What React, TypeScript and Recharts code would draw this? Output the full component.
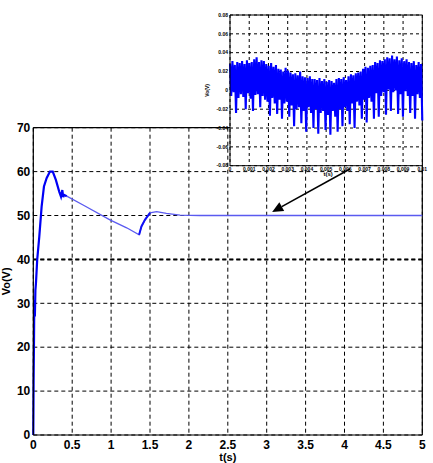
import React from "react";
import {
  LineChart,
  Line,
  XAxis,
  YAxis,
  CartesianGrid,
  ReferenceLine,
} from "recharts";

// main response
const riseT = [0, 0.004, 0.009, 0.013, 0.02, 0.027, 0.034, 0.05, 0.077, 0.107, 0.137, 0.171, 0.214, 0.25, 0.29, 0.334, 0.356, 0.373, 0.385, 0.394, 0.43];
const riseV = [0, 12.5, 21.6, 30.7, 27, 33, 34.5, 39.9, 45.2, 52, 56.6, 58.5, 60, 60, 58.1, 55.4, 54.3, 55.8, 54.2, 54.7, 54.4];
const tailT = [0.43, 0.64, 0.985, 1.2, 1.36, 1.39, 1.435, 1.5, 1.585, 1.71, 1.885, 2.14, 5];
const tailV = [54.4, 52.4, 49, 47.2, 45.6, 47.5, 49, 50.6, 50.9, 50.5, 50.1, 50.0, 50];
const kickT = [1.36, 1.39, 1.435, 1.5];
const kickV = [45.6, 47.5, 49, 50.6];

const mainXTicks = [0, 0.5, 1, 1.5, 2, 2.5, 3, 3.5, 4, 4.5, 5];
const mainYTicks = [0, 10, 20, 30, 40, 50, 60, 70];

const arrowFrom = { t: 4.07, v: 60.6 };
const arrowTo = { t: 3.07, v: 50.8 };

// zoomed ripple in the inset (mV)
const ripple = [
  28, -6, 31, -2, 27, -24, 30, -8, 29, -4,
  31, -7, 28, -20, 32, -3, 29, -9, 30, -22,
  33, -5, 35, -4, 30, -18, 32, -6, 31, -10,
  28, -12, 26, -27, 29, -8, 25, -14, 27, -25,
  23, -10, 22, -30, 20, -14, 24, -12, 21, -28,
  19, -16, 17, -38, 18, -20, 16, -18, 20, -35,
  15, -22, 14, -44, 13, -18, 15, -24, 12, -40,
  12, -20, 11, -46, 13, -24, 10, -22, 12, -42,
  9, -26, 11, -47, 10, -22, 8, -28, 12, -44,
  13, -20, 12, -38, 14, -18, 11, -22, 15, -36,
  17, -14, 16, -40, 18, -12, 19, -16, 20, -30,
  23, -10, 25, -34, 24, -8, 26, -12, 27, -30,
  30, -3, 29, -28, 32, -6, 31, -2, 33, -26,
  35, 1, 34, -22, 37, -2, 33, 0, 36, -25,
  32, -4, 34, -28, 31, -1, 33, -6, 30, -24,
  29, -6, 31, -30, 27, -4, 30, -8, 28, -32,
];
const insetXTicks = [0, 15.9, 31.8, 47.7, 63.6, 79.5, 95.4, 111.3, 127.2, 143.1, 159];
const insetXLabels = ["0", "0.001", "0.002", "0.003", "0.004", "0.005", "0.006", "0.007", "0.008", "0.009", "0.01"];
const insetYTicks = [-80, -60, -40, -20, 0, 20, 40, 60, 80];
const insetYLabels = ["-0.08", "-0.06", "-0.04", "-0.02", "0", "0.02", "0.04", "0.06", "0.08"];

const riseData = riseT.map((t, i) => ({ t, v: riseV[i] }));
const tailData = tailT.map((t, i) => ({ t, v: tailV[i] }));
const kickData = kickT.map((t, i) => ({ t, v: kickV[i] }));
const rippleData = ripple.map((v, i) => ({ i, v }));

const FONT = "Liberation Sans, Arial, sans-serif";
const tickStyle = { fill: "#000", fontSize: 12, fontWeight: "bold", fontFamily: FONT };
const smallTick = { fill: "#000", fontSize: 5, fontWeight: "bold", fontFamily: FONT };

const ArrowShape = (p: any) => {
  const { x1, y1, x2, y2 } = p;
  const a = Math.atan2(y2 - y1, x2 - x1);
  const len = 11;
  const half = 5;
  const bx = x2 - len * Math.cos(a);
  const by = y2 - len * Math.sin(a);
  const pts = [
    [x2, y2],
    [bx + half * Math.sin(a), by - half * Math.cos(a)],
    [bx - half * Math.sin(a), by + half * Math.cos(a)],
  ]
    .map((q) => q.join(","))
    .join(" ");
  return (
    <g>
      <line x1={x1} y1={y1} x2={bx} y2={by} stroke="#000" strokeWidth={1.6} />
      <polygon points={pts} fill="#000" />
    </g>
  );
};

export default function App() {
  return (
    <div style={{ position: "fixed", left: 0, top: 0, width: 433, height: 463, background: "#fff" }}>
      <div style={{ position: "absolute", left: 0, top: 0 }}>
        <LineChart width={433} height={463} margin={{ top: 127.7, right: 10.7, left: 3.3, bottom: 0 }}>
          <CartesianGrid stroke="#000" strokeDasharray="4 3" horizontalValues={mainYTicks} verticalValues={mainXTicks} />
          <XAxis
            type="number"
            dataKey="t"
            domain={[0, 5]}
            ticks={mainXTicks}
            tickFormatter={(v) => String(v)}
            interval={0}
            height={28}
            tickSize={0}
            tickMargin={5}
            axisLine={{ stroke: "#000", strokeWidth: 1.2 }}
            tick={tickStyle}
            label={{ value: "t(s)", position: "insideBottom", offset: 2, style: { ...tickStyle, fontSize: 11 } }}
          />
          <YAxis
            type="number"
            domain={[0, 70]}
            ticks={mainYTicks}
            interval={0}
            width={30}
            tickSize={0}
            tickMargin={3}
            axisLine={{ stroke: "#000", strokeWidth: 1.2 }}
            tick={tickStyle}
            label={{ value: "Vo(V)", angle: -90, position: "insideLeft", offset: 2.5, style: { ...tickStyle, fontSize: 11, textAnchor: "middle" } }}
          />
          <ReferenceLine y={40} stroke="#000" strokeWidth={2} strokeDasharray="4 3" />
          <ReferenceLine y={70} stroke="#000" strokeWidth={1.2} />
          <ReferenceLine x={5} stroke="#000" strokeWidth={1.2} />
          <Line data={tailData} dataKey="v" type="linear" stroke="#5a5af0" strokeWidth={1.3} dot={false} isAnimationActive={false} />
          <Line data={kickData} dataKey="v" type="linear" stroke="#1010f5" strokeWidth={2} dot={false} isAnimationActive={false} />
          <Line data={riseData} dataKey="v" type="linear" stroke="#0000f5" strokeWidth={2.2} dot={false} isAnimationActive={false} />
          <ReferenceLine
            segment={[{ x: arrowFrom.t, y: arrowFrom.v }, { x: arrowTo.t, y: arrowTo.v }]}
            shape={ArrowShape}
          />
        </LineChart>
      </div>
      <div style={{ position: "absolute", left: 200, top: 0 }}>
        <LineChart width={233} height={180} data={rippleData} margin={{ top: 15, right: 10.7, left: 2, bottom: 0 }}>
          <CartesianGrid stroke="#000" strokeDasharray="3 3" fill="#fff" fillOpacity={1} horizontalValues={insetYTicks} verticalValues={insetXTicks} />
          <XAxis
            type="number"
            dataKey="i"
            domain={[0, 159]}
            ticks={insetXTicks}
            interval={0}
            tickFormatter={(v, idx) => insetXLabels[idx]}
            height={14.3}
            tickSize={0}
            tickMargin={2}
            axisLine={{ stroke: "#000" }}
            tick={smallTick}
            label={{ value: "t(s)", position: "insideBottom", offset: 4, dx: 2, style: { ...smallTick, fontSize: 6 } }}
          />
          <YAxis
            type="number"
            domain={[-80, 80]}
            ticks={insetYTicks}
            interval={0}
            tickFormatter={(v, idx) => insetYLabels[idx]}
            width={28}
            tickSize={0}
            tickMargin={2}
            axisLine={{ stroke: "#000" }}
            tick={smallTick}
            label={{ value: "Vo(V)", angle: -90, position: "insideLeft", offset: 5, style: { ...smallTick, fontSize: 5, textAnchor: "middle" } }}
          />
          <ReferenceLine y={80} stroke="#000" />
          <ReferenceLine x={159} stroke="#000" />
          <Line dataKey="v" type="linear" stroke="#0000ff" strokeWidth={2.1} dot={false} isAnimationActive={false} />
        </LineChart>
      </div>
    </div>
  );
}
